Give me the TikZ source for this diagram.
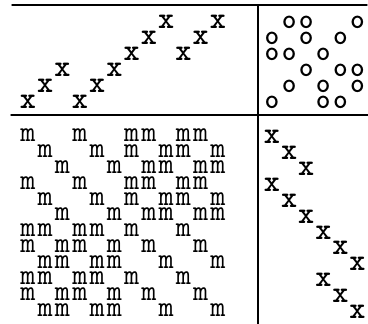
\documentclass[tikz,border=0pt]{standalone}
\usepackage{tikz}
\tikzset{
  every picture/.style={line join=round, line cap=round},
  rule/.style={line width=1.1pt},
  glyph/.style={inner sep=0pt, font=\ttfamily\fontsize{22}{22}\selectfont},
  oglyph/.style={glyph, font=\ttfamily\bfseries\fontsize{21}{21}\selectfont},
  xglyph/.style={glyph, font=\ttfamily\bfseries\fontsize{23}{23}\selectfont},
}

\begin{document}
\begin{tikzpicture}[x=0.75pt,y=-0.75pt]
\useasboundingbox (0,0) rectangle (368,324);
% frame
\coordinate (topL) at (12,5);
\coordinate (topR) at (367,5);
\coordinate (midL) at (11,115);
\coordinate (midR) at (368,115);
\coordinate (vTop) at (258,5);
\coordinate (vBot) at (258,324);
\draw[rule] (topL) -- (topR);
\draw[rule] (midL) -- (midR);
\draw[rule] (vTop) -- (vBot);
% upper left block
\foreach \r/\c in {1/9,1/12,2/8,2/11,3/7,3/10,4/3,4/6,5/2,5/5,6/1,6/4}
  \node[xglyph] (ul-\r-\c) at ({28+17.27*(\c-1)},{22+16*(\r-1)}) {x};
% upper right block
\foreach \r/\c in {1/2,1/3,1/6,2/1,2/3,2/5,3/1,3/2,3/4,4/3,4/5,4/6,5/2,5/4,5/6,6/1,6/4,6/5}
  \node[oglyph] (ur-\r-\c) at ({272+17.1*(\c-1)},{22+16*(\r-1)}) {o};
% lower left block
\foreach \r/\cols in {1/{1,4,7,8,10,11},2/{2,5,7,9,10,12},3/{3,6,8,9,11,12},
                      4/{1,4,7,8,10,11},5/{2,5,7,9,10,12},6/{3,6,8,9,11,12},
                      7/{1,2,4,5,7,10},8/{1,3,4,6,8,11},9/{2,3,5,6,9,12},
                      10/{1,2,4,5,7,10},11/{1,3,4,6,8,11},12/{2,3,5,6,9,12}}
  \foreach \c in \cols
    \node[glyph] (ll-\r-\c) at ({28+17.27*(\c-1)},{135+15.9*(\r-1)}) {m};
% lower right block
\foreach \r/\c in {1/1,2/2,3/3,4/1,5/2,6/3,7/4,8/5,9/6,10/4,11/5,12/6}
  \node[xglyph] (lr-\r-\c) at ({272+17.1*(\c-1)},{137+15.9*(\r-1)}) {x};
\end{tikzpicture}
\end{document}
